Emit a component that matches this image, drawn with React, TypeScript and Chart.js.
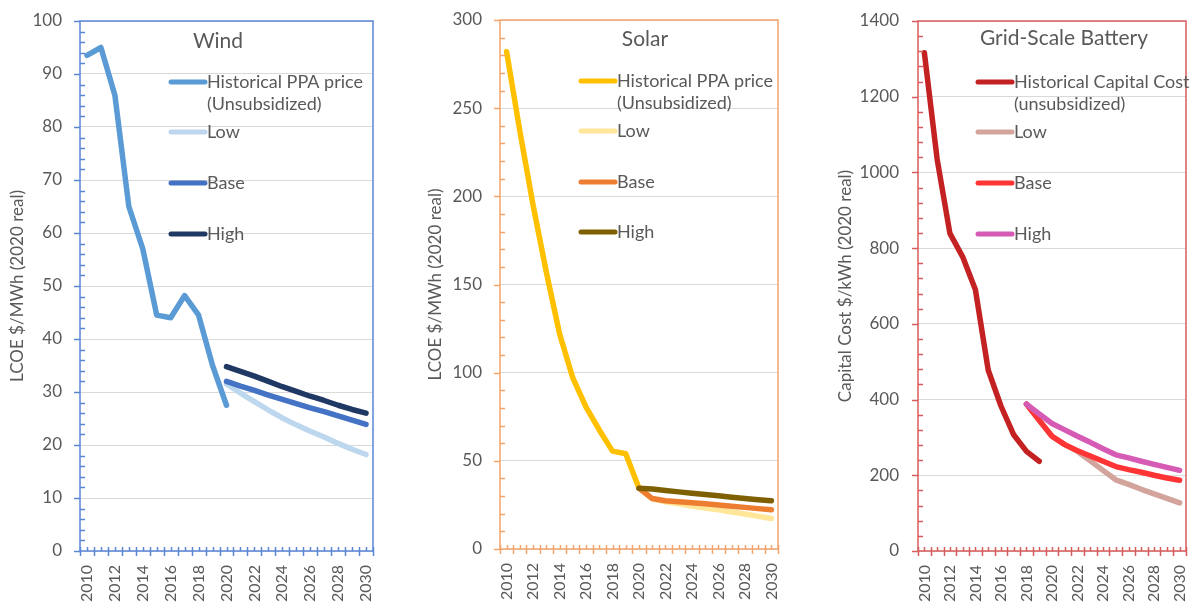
import React, { useEffect, useRef } from 'react';
import { Chart, registerables } from 'chart.js';

Chart.register(...registerables);

const years = ['2010','2011','2012','2013','2014','2015','2016','2017','2018','2019','2020','2021','2022','2023','2024','2025','2026','2027','2028','2029','2030'];

const windHistorical = [93.5, 95, 86, 65, 57, 44.5, 44, 48.2, 44.5, 35, 27.5, null, null, null, null, null, null, null, null, null, null];
const windLow = [null, null, null, null, null, null, null, null, null, null, 31.5, 29.8, 28.2, 26.6, 25.1, 23.8, 22.6, 21.5, 20.3, 19.2, 18.2];
const windBase = [null, null, null, null, null, null, null, null, null, null, 32, 31.1, 30.3, 29.4, 28.6, 27.8, 27, 26.3, 25.5, 24.7, 23.9];
const windHigh = [null, null, null, null, null, null, null, null, null, null, 34.8, 33.9, 33, 32, 31, 30.1, 29.2, 28.4, 27.5, 26.7, 26];

const solarHistorical = [282, 237, 195, 157, 122, 97, 80.5, 67.5, 55.5, 54, 34.5, null, null, null, null, null, null, null, null, null, null];
const solarLow = [null, null, null, null, null, null, null, null, null, null, 34.5, 28.4, 26.8, 25.6, 24.4, 23.3, 22.2, 21, 19.8, 18.6, 17.3];
const solarBase = [null, null, null, null, null, null, null, null, null, null, 34.5, 28.6, 27.4, 26.8, 26.2, 25.6, 25, 24.3, 23.6, 22.9, 22.2];
const solarHigh = [null, null, null, null, null, null, null, null, null, null, 34.5, 34, 33.2, 32.4, 31.6, 30.9, 30.2, 29.4, 28.6, 27.9, 27.3];

const batteryHistorical = [1316, 1035, 839, 777, 690, 478, 383, 307, 263, 237, null, null, null, null, null, null, null, null, null, null, null];
const batteryLow = [null, null, null, null, null, null, null, null, 388, 345, 303, 281, 263, 238, 213, 188, 176, 163, 151, 139, 127];
const batteryBase = [null, null, null, null, null, null, null, null, 388, 345, 303, 281, 265, 251, 237, 223, 215, 208, 200, 193, 187];
const batteryHigh = [null, null, null, null, null, null, null, null, 388, 362, 337, 320, 303, 287, 270, 254, 246, 237, 229, 221, 213];

const FONT = 'Lato, "Open Sans", sans-serif';
const TEXT = '#595959';

const decorPlugin = {
  id: 'excelDecor',
  afterDraw(chart: any, _args: any, opts: any) {
    const { ctx, chartArea } = chart;
    const { left, right, top, bottom } = chartArea;
    const ys = chart.scales.y;
    const xs = chart.scales.x;
    ctx.save();
    ctx.strokeStyle = opts.frameColor;
    ctx.lineWidth = 1.5;
    const n = Math.round(opts.yMax / opts.yMinor);
    const every = Math.round(opts.yMajor / opts.yMinor);
    for (let i = 0; i <= n; i++) {
      const py = Math.round(ys.getPixelForValue(i * opts.yMinor)) + 0.5;
      ctx.beginPath();
      if (i % every === 0) { ctx.moveTo(left - 6, py); ctx.lineTo(left, py); }
      else { ctx.moveTo(left, py); ctx.lineTo(left + 5, py); }
      ctx.stroke();
    }
    for (let i = 0; i <= years.length; i++) {
      const b = Math.round(xs.getPixelForValue(i - 0.5)) + 0.5;
      ctx.beginPath(); ctx.moveTo(b, bottom - 4); ctx.lineTo(b, bottom + 5); ctx.stroke();
      if (i < years.length) {
        const c = Math.round(xs.getPixelForValue(i)) + 0.5;
        ctx.beginPath(); ctx.moveTo(c, bottom - 4); ctx.lineTo(c, bottom); ctx.stroke();
      }
    }
    ctx.strokeRect(left, top, right - left, bottom - top);

    ctx.fillStyle = TEXT;
    ctx.font = `21px ${FONT}`;
    ctx.textAlign = 'center';
    ctx.textBaseline = 'middle';
    ctx.fillText(opts.title, opts.titleX, opts.titleY);

    ctx.font = `18px ${FONT}`;
    ctx.textAlign = 'left';
    chart.data.datasets.forEach((ds: any, k: number) => {
      const y = opts.legendRows[k];
      ctx.strokeStyle = ds.borderColor;
      ctx.lineWidth = 5;
      ctx.lineCap = 'round';
      ctx.beginPath();
      ctx.moveTo(opts.legendX, y);
      ctx.lineTo(opts.legendX + 34, y);
      ctx.stroke();
      const lines = String(ds.label).split('\n');
      lines.forEach((t: string, j: number) => {
        ctx.fillText(t, opts.legendX + 36, y + j * 22);
      });
    });
    ctx.restore();
  },
};

type PanelCfg = {
  left: number; width: number; areaTop: number; padRight: number;
  yAxisWidth: number; xAxisHeight: number; yTitlePad: number; tickPad: number;
  yMax: number; yMajor: number; yMinor: number; yTitle: string;
  frameColor: string; title: string; titleX: number; titleY: number;
  legendX: number; legendRows: number[];
  series: { label: string; data: (number | null)[]; color: string; order: number }[];
};

const panels: PanelCfg[] = [
  {
    left: 0, width: 395, areaTop: 21, padRight: 22, yAxisWidth: 80, xAxisHeight: 52, yTitlePad: 8, tickPad: 18,
    yMax: 100, yMajor: 10, yMinor: 2, yTitle: 'LCOE $/MWh (2020 real)',
    frameColor: '#5A86D6', title: 'Wind', titleX: 218, titleY: 41,
    legendX: 171, legendRows: [82, 132, 183, 234],
    series: [
      { label: 'Historical PPA price\n(Unsubsidized)', data: windHistorical, color: '#5B9BD5', order: 3 },
      { label: 'Low', data: windLow, color: '#BDD7EE', order: 2 },
      { label: 'Base', data: windBase, color: '#4472C4', order: 1 },
      { label: 'High', data: windHigh, color: '#203864', order: 0 },
    ],
  },
  {
    left: 400, width: 390, areaTop: 20, padRight: 12, yAxisWidth: 100, xAxisHeight: 54, yTitlePad: 26, tickPad: 18,
    yMax: 300, yMajor: 50, yMinor: 10, yTitle: 'LCOE $/MWh (2020 real)',
    frameColor: '#F2A46C', title: 'Solar', titleX: 245, titleY: 39,
    legendX: 181, legendRows: [81, 131, 182, 232],
    series: [
      { label: 'Historical PPA price\n(Unsubsidized)', data: solarHistorical, color: '#FFC000', order: 3 },
      { label: 'Low', data: solarLow, color: '#FFE699', order: 2 },
      { label: 'Base', data: solarBase, color: '#ED7D31', order: 1 },
      { label: 'High', data: solarHigh, color: '#7F6000', order: 0 },
    ],
  },
  {
    left: 800, width: 390, areaTop: 21, padRight: 4, yAxisWidth: 118, xAxisHeight: 52, yTitlePad: 36, tickPad: 19,
    yMax: 1400, yMajor: 200, yMinor: 40, yTitle: 'Capital Cost $/kWh (2020 real)',
    frameColor: '#D95C5C', title: 'Grid-Scale Battery', titleX: 264, titleY: 38,
    legendX: 178, legendRows: [82, 132, 183, 234],
    series: [
      { label: 'Historical Capital Cost\n(unsubsidized)', data: batteryHistorical, color: '#C42222', order: 3 },
      { label: 'Low', data: batteryLow, color: '#D3A49B', order: 2 },
      { label: 'Base', data: batteryBase, color: '#FF3535', order: 1 },
      { label: 'High', data: batteryHigh, color: '#D65BB5', order: 0 },
    ],
  },
];

function Panel({ cfg }: { cfg: PanelCfg }) {
  const ref = useRef<HTMLCanvasElement>(null);
  useEffect(() => {
    const chart = new Chart(ref.current as HTMLCanvasElement, {
      type: 'line',
      data: {
        labels: years,
        datasets: cfg.series.map((s) => ({
          label: s.label,
          data: s.data,
          borderColor: s.color,
          backgroundColor: s.color,
          borderWidth: 5.5,
          borderCapStyle: 'round',
          borderJoinStyle: 'round',
          pointRadius: 0,
          pointHoverRadius: 0,
          tension: 0,
          spanGaps: false,
          order: s.order,
        })),
      },
      options: {
        animation: false,
        responsive: false,
        events: [],
        layout: { padding: { top: cfg.areaTop, right: cfg.padRight, left: 0, bottom: 0 } },
        plugins: {
          legend: { display: false },
          tooltip: { enabled: false },
          excelDecor: {
            frameColor: cfg.frameColor, yMax: cfg.yMax, yMajor: cfg.yMajor, yMinor: cfg.yMinor,
            title: cfg.title, titleX: cfg.titleX, titleY: cfg.titleY,
            legendX: cfg.legendX, legendRows: cfg.legendRows,
          },
        } as any,
        scales: {
          x: {
            type: 'category',
            offset: true,
            grid: { display: false },
            border: { display: false },
            ticks: {
              autoSkip: false,
              minRotation: 90,
              maxRotation: 90,
              padding: 6,
              color: TEXT,
              font: { family: FONT, size: 16 },
              callback: (_v: any, i: number) => (i % 2 === 0 ? years[i] : ''),
            },
            afterFit: (scale: any) => {
              scale.height = cfg.xAxisHeight;
              scale.paddingLeft = 0;
              scale.paddingRight = 0;
            },
          },
          y: {
            min: 0,
            max: cfg.yMax,
            grid: { color: '#D9D9D9', lineWidth: 1, drawTicks: false },
            border: { display: false },
            ticks: {
              stepSize: cfg.yMajor,
              padding: cfg.tickPad,
              color: TEXT,
              font: { family: FONT, size: 17 },
              callback: (v: any) => String(v),
            },
            title: {
              display: true,
              text: cfg.yTitle,
              color: TEXT,
              font: { family: FONT, size: 17 },
              padding: { top: cfg.yTitlePad - 1, bottom: 0 },
            },
            afterFit: (scale: any) => {
              scale.width = cfg.yAxisWidth;
              scale.paddingTop = 0;
              scale.paddingBottom = 0;
            },
          },
        },
      },
      plugins: [decorPlugin as any],
    } as any);
    return () => chart.destroy();
  }, []);
  return (
    <canvas
      ref={ref}
      width={cfg.width}
      height={603}
      style={{ position: 'absolute', left: cfg.left, top: 0, width: cfg.width, height: 603 }}
    />
  );
}

export default function App() {
  return (
    <div style={{ position: 'absolute', left: 0, top: 0, width: 1190, height: 603, background: '#fff', overflow: 'hidden' }}>
      {panels.map((p, i) => (
        <Panel key={i} cfg={p} />
      ))}
    </div>
  );
}
